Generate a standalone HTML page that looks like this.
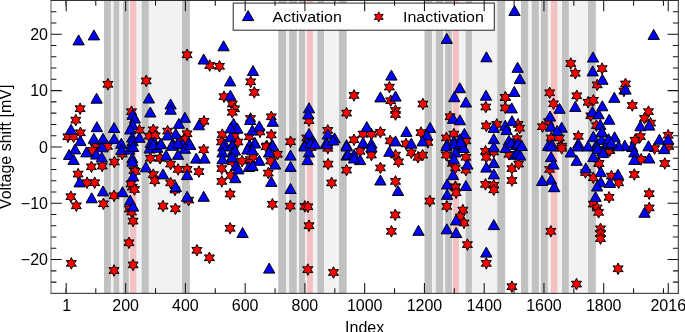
<!DOCTYPE html><html><head><meta charset="utf-8"><style>html,body{margin:0;padding:0;background:#fff;overflow:hidden}svg{display:block}</style></head><body><svg width="685" height="332" viewBox="0 0 685 332"><defs><path id="t" d="M0,-5.00L5.65,5.00L-5.65,5.00Z" fill="#00f" stroke="#000" stroke-width="1"/><path id="s" d="M0.00,-5.80L1.55,-2.68L5.02,-2.90L3.10,0.00L5.02,2.90L1.55,2.68L0.00,5.80L-1.55,2.68L-5.02,2.90L-3.10,0.00L-5.02,-2.90L-1.55,-2.68Z" fill="#f00" stroke="#000" stroke-width="1"/></defs><rect width="685" height="332" fill="#fff"/><rect x="104.0" y="0.45" width="85.90" height="292.90" fill="#f2f2f2"/><rect x="104.0" y="0.45" width="6.85" height="292.90" fill="#c1c1c1"/><rect x="113.55" y="0.45" width="5.65" height="292.90" fill="#c1c1c1"/><rect x="123.05" y="0.45" width="5.75" height="292.90" fill="#c1c1c1"/><rect x="141.7" y="0.45" width="7.00" height="292.90" fill="#c1c1c1"/><rect x="182.1" y="0.45" width="7.80" height="292.90" fill="#c1c1c1"/><rect x="130.0" y="0.45" width="6.30" height="292.90" fill="#f3c1c1"/><rect x="278.25" y="0.45" width="68.35" height="292.90" fill="#f2f2f2"/><rect x="278.25" y="0.45" width="7.85" height="292.90" fill="#c1c1c1"/><rect x="289.2" y="0.45" width="7.50" height="292.90" fill="#c1c1c1"/><rect x="299.0" y="0.45" width="6.00" height="292.90" fill="#c1c1c1"/><rect x="317.4" y="0.45" width="6.55" height="292.90" fill="#c1c1c1"/><rect x="338.95" y="0.45" width="7.65" height="292.90" fill="#c1c1c1"/><rect x="306.8" y="0.45" width="6.10" height="292.90" fill="#f3c1c1"/><rect x="424.5" y="0.45" width="80.70" height="292.90" fill="#f2f2f2"/><rect x="424.5" y="0.45" width="7.50" height="292.90" fill="#c1c1c1"/><rect x="435.8" y="0.45" width="7.25" height="292.90" fill="#c1c1c1"/><rect x="445.2" y="0.45" width="6.70" height="292.90" fill="#c1c1c1"/><rect x="465.65" y="0.45" width="6.20" height="292.90" fill="#c1c1c1"/><rect x="497.3" y="0.45" width="7.90" height="292.90" fill="#c1c1c1"/><rect x="452.9" y="0.45" width="6.00" height="292.90" fill="#f3c1c1"/><rect x="520.95" y="0.45" width="74.85" height="292.90" fill="#f2f2f2"/><rect x="520.95" y="0.45" width="7.25" height="292.90" fill="#c1c1c1"/><rect x="531.8" y="0.45" width="7.00" height="292.90" fill="#c1c1c1"/><rect x="541.0" y="0.45" width="6.80" height="292.90" fill="#c1c1c1"/><rect x="562.0" y="0.45" width="6.75" height="292.90" fill="#c1c1c1"/><rect x="588.05" y="0.45" width="7.75" height="292.90" fill="#c1c1c1"/><rect x="550.85" y="0.45" width="6.65" height="292.90" fill="#f3c1c1"/><use href="#s" x="80.1" y="108.7"/><use href="#s" x="75.8" y="120.1"/><use href="#s" x="80.4" y="132.8"/><use href="#s" x="67.9" y="136.8"/><use href="#s" x="73.6" y="136.8"/><use href="#s" x="95.0" y="147.0"/><use href="#s" x="107.5" y="146.4"/><use href="#s" x="92.4" y="150.4"/><use href="#s" x="114.3" y="162.0"/><use href="#s" x="91.4" y="166.8"/><use href="#s" x="102.2" y="166.1"/><use href="#s" x="78.1" y="174.1"/><use href="#s" x="87.1" y="182.7"/><use href="#s" x="94.7" y="182.7"/><use href="#s" x="131.5" y="111.7"/><use href="#s" x="139.4" y="130.2"/><use href="#s" x="153.3" y="129.8"/><use href="#s" x="149.2" y="136.2"/><use href="#s" x="155.2" y="135.8"/><use href="#s" x="122.2" y="154.0"/><use href="#s" x="150.4" y="158.2"/><use href="#s" x="160.2" y="158.2"/><use href="#s" x="133.8" y="170.5"/><use href="#s" x="135.3" y="171.4"/><use href="#s" x="132.3" y="187.2"/><use href="#s" x="131.0" y="184.0"/><use href="#s" x="134.5" y="189.5"/><use href="#s" x="70.9" y="196.7"/><use href="#s" x="76.3" y="205.8"/><use href="#s" x="103.4" y="203.8"/><use href="#s" x="114.0" y="195.8"/><use href="#s" x="129.3" y="209.1"/><use href="#s" x="131.6" y="212.1"/><use href="#s" x="133.1" y="221.1"/><use href="#s" x="129.0" y="242.8"/><use href="#s" x="71.3" y="263.4"/><use href="#s" x="133.1" y="264.9"/><use href="#s" x="114.0" y="270.5"/><use href="#s" x="175.0" y="190.0"/><use href="#s" x="188.7" y="200.1"/><use href="#s" x="163.0" y="206.1"/><use href="#s" x="175.4" y="208.8"/><use href="#s" x="230.1" y="194.0"/><use href="#s" x="230.1" y="228.3"/><use href="#s" x="196.9" y="250.3"/><use href="#s" x="209.4" y="257.8"/><use href="#s" x="307.8" y="269.6"/><use href="#s" x="333.5" y="272.5"/><use href="#s" x="167.6" y="131.1"/><use href="#s" x="187.1" y="133.8"/><use href="#s" x="179.6" y="140.2"/><use href="#s" x="184.9" y="139.4"/><use href="#s" x="204.0" y="121.3"/><use href="#s" x="232.3" y="104.0"/><use href="#s" x="234.6" y="108.8"/><use href="#s" x="232.3" y="112.3"/><use href="#s" x="222.3" y="134.6"/><use href="#s" x="234.4" y="136.1"/><use href="#s" x="249.4" y="136.8"/><use href="#s" x="160.0" y="158.1"/><use href="#s" x="170.6" y="164.1"/><use href="#s" x="178.1" y="169.4"/><use href="#s" x="187.1" y="169.4"/><use href="#s" x="153.3" y="174.6"/><use href="#s" x="154.8" y="180.7"/><use href="#s" x="170.6" y="182.9"/><use href="#s" x="203.7" y="149.8"/><use href="#s" x="198.9" y="171.6"/><use href="#s" x="221.5" y="142.0"/><use href="#s" x="232.3" y="161.8"/><use href="#s" x="242.1" y="161.1"/><use href="#s" x="221.8" y="168.6"/><use href="#s" x="230.8" y="175.4"/><use href="#s" x="221.8" y="181.4"/><use href="#s" x="250.4" y="159.6"/><use href="#s" x="238.0" y="142.0"/><use href="#s" x="260.0" y="131.9"/><use href="#s" x="271.3" y="116.8"/><use href="#s" x="271.3" y="134.9"/><use href="#s" x="266.8" y="145.9"/><use href="#s" x="309.0" y="120.6"/><use href="#s" x="306.7" y="137.9"/><use href="#s" x="290.5" y="141.7"/><use href="#s" x="327.8" y="130.4"/><use href="#s" x="346.6" y="113.1"/><use href="#s" x="253.3" y="156.6"/><use href="#s" x="266.1" y="146.8"/><use href="#s" x="277.4" y="154.3"/><use href="#s" x="270.6" y="161.1"/><use href="#s" x="268.3" y="173.1"/><use href="#s" x="311.2" y="147.5"/><use href="#s" x="327.8" y="148.3"/><use href="#s" x="328.1" y="164.1"/><use href="#s" x="331.6" y="182.9"/><use href="#s" x="346.6" y="170.1"/><use href="#s" x="250.5" y="118.5"/><use href="#s" x="272.4" y="204.3"/><use href="#s" x="290.2" y="206.1"/><use href="#s" x="304.9" y="206.4"/><use href="#s" x="307.9" y="206.8"/><use href="#s" x="309.0" y="225.7"/><use href="#s" x="395.5" y="110.5"/><use href="#s" x="395.5" y="114.5"/><use href="#s" x="422.9" y="104.0"/><use href="#s" x="380.4" y="132.3"/><use href="#s" x="363.1" y="134.1"/><use href="#s" x="371.4" y="134.1"/><use href="#s" x="354.0" y="139.8"/><use href="#s" x="390.2" y="140.9"/><use href="#s" x="406.0" y="143.9"/><use href="#s" x="421.0" y="132.6"/><use href="#s" x="427.8" y="142.4"/><use href="#s" x="360.1" y="151.3"/><use href="#s" x="371.4" y="155.1"/><use href="#s" x="380.4" y="167.9"/><use href="#s" x="395.5" y="181.4"/><use href="#s" x="395.5" y="155.1"/><use href="#s" x="398.5" y="161.8"/><use href="#s" x="411.3" y="152.8"/><use href="#s" x="418.0" y="157.3"/><use href="#s" x="422.6" y="155.1"/><use href="#s" x="429.8" y="201.1"/><use href="#s" x="395.2" y="214.9"/><use href="#s" x="391.4" y="231.3"/><use href="#s" x="485.8" y="107.0"/><use href="#s" x="450.1" y="116.8"/><use href="#s" x="446.4" y="137.9"/><use href="#s" x="453.9" y="134.1"/><use href="#s" x="465.9" y="140.9"/><use href="#s" x="486.3" y="125.9"/><use href="#s" x="496.8" y="124.4"/><use href="#s" x="518.1" y="124.4"/><use href="#s" x="519.6" y="128.2"/><use href="#s" x="517.1" y="138.7"/><use href="#s" x="505.3" y="97.4"/><use href="#s" x="505.3" y="107.9"/><use href="#s" x="446.4" y="155.1"/><use href="#s" x="465.9" y="157.3"/><use href="#s" x="452.4" y="163.3"/><use href="#s" x="455.4" y="167.9"/><use href="#s" x="465.9" y="170.1"/><use href="#s" x="455.4" y="186.7"/><use href="#s" x="485.5" y="151.3"/><use href="#s" x="493.8" y="152.0"/><use href="#s" x="486.3" y="157.3"/><use href="#s" x="485.5" y="184.4"/><use href="#s" x="493.8" y="185.2"/><use href="#s" x="508.9" y="154.3"/><use href="#s" x="511.9" y="168.6"/><use href="#s" x="511.9" y="180.5"/><use href="#s" x="518.6" y="164.1"/><use href="#s" x="455.4" y="187.5"/><use href="#s" x="456.1" y="192.8"/><use href="#s" x="446.8" y="206.4"/><use href="#s" x="462.9" y="210.1"/><use href="#s" x="460.4" y="216.9"/><use href="#s" x="464.0" y="222.9"/><use href="#s" x="493.8" y="189.8"/><use href="#s" x="467.4" y="244.6"/><use href="#s" x="486.3" y="263.4"/><use href="#s" x="623.9" y="91.0"/><use href="#s" x="553.5" y="103.8"/><use href="#s" x="548.5" y="121.6"/><use href="#s" x="542.5" y="126.7"/><use href="#s" x="551.1" y="137.9"/><use href="#s" x="559.4" y="137.9"/><use href="#s" x="561.7" y="146.2"/><use href="#s" x="588.1" y="102.3"/><use href="#s" x="590.8" y="115.8"/><use href="#s" x="596.5" y="125.6"/><use href="#s" x="578.3" y="136.4"/><use href="#s" x="549.6" y="169.4"/><use href="#s" x="561.7" y="148.3"/><use href="#s" x="609.9" y="150.5"/><use href="#s" x="598.6" y="163.3"/><use href="#s" x="593.3" y="177.7"/><use href="#s" x="611.4" y="176.1"/><use href="#s" x="609.1" y="197.3"/><use href="#s" x="593.3" y="204.1"/><use href="#s" x="597.1" y="207.9"/><use href="#s" x="598.6" y="212.4"/><use href="#s" x="600.5" y="228.8"/><use href="#s" x="600.5" y="233.5"/><use href="#s" x="600.5" y="238.6"/><use href="#s" x="550.8" y="231.3"/><use href="#s" x="618.1" y="268.8"/><use href="#s" x="576.5" y="284.1"/><use href="#s" x="632.3" y="105.5"/><use href="#s" x="648.5" y="111.6"/><use href="#s" x="644.5" y="118.3"/><use href="#s" x="650.6" y="123.1"/><use href="#s" x="640.4" y="136.6"/><use href="#s" x="635.0" y="140.2"/><use href="#s" x="668.2" y="135.3"/><use href="#s" x="668.8" y="146.5"/><use href="#s" x="654.6" y="148.6"/><use href="#s" x="609.2" y="150.6"/><use href="#s" x="641.1" y="159.4"/><use href="#s" x="664.8" y="163.5"/><use href="#s" x="599.1" y="163.5"/><use href="#s" x="634.3" y="174.5"/><use href="#s" x="618.7" y="182.8"/><use href="#s" x="649.2" y="193.7"/><use href="#s" x="649.2" y="207.9"/><use href="#s" x="511.9" y="286.7"/><use href="#s" x="585.5" y="172.5"/><use href="#s" x="107.9" y="84.3"/><use href="#s" x="146.2" y="80.9"/><use href="#s" x="187.1" y="54.8"/><use href="#s" x="209.7" y="65.5"/><use href="#s" x="219.5" y="66.3"/><use href="#s" x="224.0" y="96.7"/><use href="#s" x="250.7" y="81.8"/><use href="#s" x="254.3" y="92.4"/><use href="#s" x="389.4" y="87.1"/><use href="#s" x="354.0" y="95.4"/><use href="#s" x="505.5" y="97.4"/><use href="#s" x="549.7" y="92.8"/><use href="#s" x="570.8" y="63.5"/><use href="#s" x="575.3" y="73.3"/><use href="#s" x="602.1" y="68.6"/><use href="#s" x="597.2" y="84.9"/><use href="#s" x="625.5" y="83.9"/><use href="#s" x="576.8" y="95.8"/><use href="#s" x="593.4" y="100.3"/><use href="#s" x="390.7" y="100.7"/><use href="#t" x="71.0" y="129.3"/><use href="#t" x="80.4" y="140.6"/><use href="#t" x="75.1" y="148.9"/><use href="#t" x="69.1" y="154.5"/><use href="#t" x="73.6" y="159.4"/><use href="#t" x="96.9" y="126.7"/><use href="#t" x="93.9" y="138.3"/><use href="#t" x="103.0" y="138.3"/><use href="#t" x="102.2" y="146.8"/><use href="#t" x="86.4" y="151.9"/><use href="#t" x="96.2" y="154.1"/><use href="#t" x="101.8" y="157.0"/><use href="#t" x="79.6" y="181.9"/><use href="#t" x="103.0" y="190.9"/><use href="#t" x="122.5" y="191.7"/><use href="#t" x="132.6" y="114.3"/><use href="#t" x="134.8" y="118.1"/><use href="#t" x="150.3" y="112.0"/><use href="#t" x="114.1" y="127.5"/><use href="#t" x="132.6" y="124.5"/><use href="#t" x="130.3" y="129.0"/><use href="#t" x="114.1" y="138.4"/><use href="#t" x="132.2" y="137.0"/><use href="#t" x="132.6" y="140.7"/><use href="#t" x="139.4" y="137.3"/><use href="#t" x="121.3" y="143.3"/><use href="#t" x="154.4" y="141.8"/><use href="#t" x="150.7" y="142.6"/><use href="#t" x="121.4" y="149.5"/><use href="#t" x="129.3" y="149.1"/><use href="#t" x="133.1" y="146.5"/><use href="#t" x="132.3" y="157.8"/><use href="#t" x="132.3" y="161.2"/><use href="#t" x="149.6" y="148.0"/><use href="#t" x="157.2" y="147.3"/><use href="#t" x="145.9" y="166.8"/><use href="#t" x="133.1" y="175.9"/><use href="#t" x="91.7" y="197.8"/><use href="#t" x="130.1" y="200.1"/><use href="#t" x="133.1" y="206.1"/><use href="#t" x="187.1" y="196.3"/><use href="#t" x="203.7" y="196.3"/><use href="#t" x="242.6" y="232.5"/><use href="#t" x="269.2" y="268.1"/><use href="#t" x="170.6" y="104.0"/><use href="#t" x="170.6" y="109.2"/><use href="#t" x="184.9" y="117.3"/><use href="#t" x="178.9" y="123.3"/><use href="#t" x="175.8" y="133.4"/><use href="#t" x="167.6" y="134.9"/><use href="#t" x="160.8" y="143.2"/><use href="#t" x="188.7" y="142.4"/><use href="#t" x="172.8" y="143.2"/><use href="#t" x="182.6" y="143.9"/><use href="#t" x="198.9" y="124.8"/><use href="#t" x="233.6" y="123.3"/><use href="#t" x="237.4" y="128.2"/><use href="#t" x="230.6" y="127.8"/><use href="#t" x="230.6" y="136.8"/><use href="#t" x="224.8" y="143.9"/><use href="#t" x="232.3" y="144.7"/><use href="#t" x="250.2" y="119.5"/><use href="#t" x="252.4" y="130.0"/><use href="#t" x="249.6" y="144.7"/><use href="#t" x="153.3" y="144.5"/><use href="#t" x="160.8" y="143.8"/><use href="#t" x="172.1" y="145.3"/><use href="#t" x="178.1" y="143.0"/><use href="#t" x="184.9" y="148.3"/><use href="#t" x="190.2" y="144.5"/><use href="#t" x="166.1" y="155.1"/><use href="#t" x="178.1" y="154.3"/><use href="#t" x="187.1" y="174.6"/><use href="#t" x="163.0" y="173.9"/><use href="#t" x="175.8" y="186.5"/><use href="#t" x="196.2" y="158.1"/><use href="#t" x="204.5" y="158.1"/><use href="#t" x="223.3" y="146.0"/><use href="#t" x="232.3" y="145.3"/><use href="#t" x="222.5" y="152.0"/><use href="#t" x="232.3" y="152.0"/><use href="#t" x="235.0" y="150.0"/><use href="#t" x="222.5" y="158.8"/><use href="#t" x="232.3" y="157.0"/><use href="#t" x="236.1" y="165.6"/><use href="#t" x="238.4" y="168.9"/><use href="#t" x="235.3" y="177.7"/><use href="#t" x="247.4" y="149.0"/><use href="#t" x="248.9" y="166.4"/><use href="#t" x="259.3" y="125.9"/><use href="#t" x="254.8" y="142.4"/><use href="#t" x="272.8" y="121.3"/><use href="#t" x="272.1" y="144.7"/><use href="#t" x="309.0" y="107.8"/><use href="#t" x="308.2" y="113.8"/><use href="#t" x="309.0" y="133.4"/><use href="#t" x="307.5" y="142.4"/><use href="#t" x="312.0" y="141.7"/><use href="#t" x="304.5" y="144.7"/><use href="#t" x="327.8" y="134.1"/><use href="#t" x="334.6" y="137.9"/><use href="#t" x="326.3" y="142.4"/><use href="#t" x="346.6" y="144.7"/><use href="#t" x="254.8" y="143.0"/><use href="#t" x="252.5" y="149.8"/><use href="#t" x="259.3" y="160.3"/><use href="#t" x="252.5" y="165.6"/><use href="#t" x="272.8" y="145.3"/><use href="#t" x="269.1" y="152.0"/><use href="#t" x="275.1" y="164.1"/><use href="#t" x="271.3" y="181.4"/><use href="#t" x="290.5" y="155.1"/><use href="#t" x="290.5" y="166.4"/><use href="#t" x="290.5" y="188.5"/><use href="#t" x="304.5" y="146.0"/><use href="#t" x="310.5" y="143.0"/><use href="#t" x="315.0" y="143.8"/><use href="#t" x="309.0" y="152.0"/><use href="#t" x="307.5" y="159.6"/><use href="#t" x="327.1" y="143.8"/><use href="#t" x="333.0" y="140.0"/><use href="#t" x="346.6" y="146.0"/><use href="#t" x="346.6" y="155.1"/><use href="#t" x="366.8" y="126.6"/><use href="#t" x="363.1" y="142.4"/><use href="#t" x="371.4" y="143.2"/><use href="#t" x="406.4" y="131.4"/><use href="#t" x="395.5" y="140.9"/><use href="#t" x="411.3" y="143.2"/><use href="#t" x="430.1" y="127.4"/><use href="#t" x="427.1" y="134.9"/><use href="#t" x="422.6" y="140.9"/><use href="#t" x="371.4" y="146.8"/><use href="#t" x="348.0" y="154.3"/><use href="#t" x="354.0" y="154.3"/><use href="#t" x="360.1" y="159.6"/><use href="#t" x="354.0" y="158.0"/><use href="#t" x="380.4" y="180.0"/><use href="#t" x="389.4" y="151.3"/><use href="#t" x="398.0" y="190.5"/><use href="#t" x="418.5" y="230.3"/><use href="#t" x="465.9" y="102.0"/><use href="#t" x="453.1" y="118.3"/><use href="#t" x="459.9" y="119.8"/><use href="#t" x="464.4" y="133.4"/><use href="#t" x="459.9" y="138.7"/><use href="#t" x="453.9" y="140.9"/><use href="#t" x="447.1" y="143.9"/><use href="#t" x="460.7" y="145.4"/><use href="#t" x="493.8" y="127.4"/><use href="#t" x="505.3" y="125.2"/><use href="#t" x="506.6" y="129.6"/><use href="#t" x="512.0" y="120.7"/><use href="#t" x="493.8" y="138.7"/><use href="#t" x="508.9" y="140.2"/><use href="#t" x="513.4" y="142.4"/><use href="#t" x="511.7" y="107.9"/><use href="#t" x="446.4" y="146.0"/><use href="#t" x="454.6" y="143.8"/><use href="#t" x="463.7" y="147.5"/><use href="#t" x="460.7" y="141.5"/><use href="#t" x="455.4" y="152.0"/><use href="#t" x="453.9" y="158.8"/><use href="#t" x="467.4" y="164.1"/><use href="#t" x="453.1" y="174.6"/><use href="#t" x="447.1" y="184.0"/><use href="#t" x="465.9" y="185.5"/><use href="#t" x="493.8" y="146.8"/><use href="#t" x="493.8" y="162.6"/><use href="#t" x="486.3" y="167.1"/><use href="#t" x="493.8" y="173.9"/><use href="#t" x="505.8" y="147.5"/><use href="#t" x="511.1" y="143.0"/><use href="#t" x="516.4" y="144.5"/><use href="#t" x="514.9" y="154.3"/><use href="#t" x="517.9" y="152.8"/><use href="#t" x="447.1" y="194.3"/><use href="#t" x="456.1" y="219.9"/><use href="#t" x="493.8" y="224.6"/><use href="#t" x="446.8" y="228.8"/><use href="#t" x="456.1" y="232.5"/><use href="#t" x="486.3" y="252.1"/><use href="#t" x="559.5" y="108.3"/><use href="#t" x="550.0" y="116.1"/><use href="#t" x="551.1" y="126.2"/><use href="#t" x="561.7" y="127.2"/><use href="#t" x="557.2" y="130.4"/><use href="#t" x="551.9" y="143.9"/><use href="#t" x="548.1" y="145.4"/><use href="#t" x="575.3" y="106.4"/><use href="#t" x="592.4" y="111.5"/><use href="#t" x="598.6" y="113.8"/><use href="#t" x="602.3" y="105.8"/><use href="#t" x="609.2" y="119.2"/><use href="#t" x="600.3" y="124.4"/><use href="#t" x="601.6" y="132.0"/><use href="#t" x="593.3" y="136.4"/><use href="#t" x="608.4" y="139.4"/><use href="#t" x="601.6" y="139.4"/><use href="#t" x="596.3" y="144.7"/><use href="#t" x="606.9" y="144.7"/><use href="#t" x="578.3" y="143.2"/><use href="#t" x="518.0" y="143.2"/><use href="#t" x="521.8" y="145.4"/><use href="#t" x="520.3" y="155.1"/><use href="#t" x="551.1" y="146.0"/><use href="#t" x="551.1" y="156.6"/><use href="#t" x="553.4" y="164.1"/><use href="#t" x="551.1" y="179.2"/><use href="#t" x="542.1" y="180.5"/><use href="#t" x="554.2" y="186.7"/><use href="#t" x="577.5" y="146.0"/><use href="#t" x="570.7" y="152.0"/><use href="#t" x="576.7" y="160.3"/><use href="#t" x="585.8" y="167.9"/><use href="#t" x="588.0" y="146.0"/><use href="#t" x="597.1" y="146.0"/><use href="#t" x="593.3" y="156.6"/><use href="#t" x="602.3" y="150.5"/><use href="#t" x="610.6" y="143.8"/><use href="#t" x="600.8" y="171.6"/><use href="#t" x="600.8" y="181.8"/><use href="#t" x="609.9" y="182.5"/><use href="#t" x="597.1" y="186.0"/><use href="#t" x="595.6" y="196.6"/><use href="#t" x="640.4" y="125.8"/><use href="#t" x="649.2" y="125.1"/><use href="#t" x="614.6" y="136.8"/><use href="#t" x="608.6" y="138.7"/><use href="#t" x="659.4" y="139.2"/><use href="#t" x="668.2" y="139.2"/><use href="#t" x="601.8" y="131.2"/><use href="#t" x="664.1" y="148.6"/><use href="#t" x="648.5" y="145.8"/><use href="#t" x="632.3" y="146.5"/><use href="#t" x="624.8" y="145.2"/><use href="#t" x="618.7" y="145.8"/><use href="#t" x="611.3" y="142.5"/><use href="#t" x="634.3" y="151.9"/><use href="#t" x="634.3" y="159.4"/><use href="#t" x="649.2" y="158.0"/><use href="#t" x="597.7" y="148.6"/><use href="#t" x="603.1" y="152.6"/><use href="#t" x="618.0" y="174.2"/><use href="#t" x="644.5" y="212.3"/><use href="#t" x="78.6" y="39.9"/><use href="#t" x="93.9" y="34.9"/><use href="#t" x="223.6" y="45.8"/><use href="#t" x="446.8" y="38.4"/><use href="#t" x="514.5" y="10.5"/><use href="#t" x="653.7" y="34.4"/><use href="#t" x="96.6" y="98.2"/><use href="#t" x="148.9" y="98.0"/><use href="#t" x="203.7" y="59.0"/><use href="#t" x="230.1" y="80.9"/><use href="#t" x="230.4" y="95.2"/><use href="#t" x="253.0" y="70.5"/><use href="#t" x="391.4" y="75.1"/><use href="#t" x="380.4" y="96.9"/><use href="#t" x="395.5" y="96.1"/><use href="#t" x="486.4" y="56.8"/><use href="#t" x="517.6" y="67.3"/><use href="#t" x="519.8" y="78.6"/><use href="#t" x="514.3" y="91.4"/><use href="#t" x="459.8" y="87.7"/><use href="#t" x="454.3" y="96.7"/><use href="#t" x="486.0" y="95.2"/><use href="#t" x="593.0" y="57.0"/><use href="#t" x="592.7" y="70.9"/><use href="#t" x="602.4" y="79.3"/><use href="#t" x="625.5" y="89.1"/><use href="#t" x="614.3" y="97.3"/><rect x="233.2" y="3.1" width="261.1" height="27.1" fill="#fff" stroke="#262626" stroke-width="1"/><use href="#t" x="248.1" y="15.6"/><use href="#s" transform="translate(378.8,16.9) scale(0.88)"/><g style="will-change:transform" font-family="Liberation Sans" font-size="16" fill="#000"><text transform="translate(272.6,22.3) scale(1,0.9125)">Activation</text><text transform="translate(403.0,22.3) scale(1,0.9125)">Inactivation</text></g><path d="M66.20,293.35v-10.3M66.20,0.45v10.8M95.78,293.35v-5.2M95.78,0.45v5.4M125.66,293.35v-10.3M125.66,0.45v10.8M155.53,293.35v-5.2M155.53,0.45v5.4M185.41,293.35v-10.3M185.41,0.45v10.8M215.29,293.35v-5.2M215.29,0.45v5.4M245.17,293.35v-10.3M245.17,0.45v10.8M275.05,293.35v-5.2M275.05,0.45v5.4M304.92,293.35v-10.3M304.92,0.45v10.8M334.80,293.35v-5.2M334.80,0.45v5.4M364.68,293.35v-10.3M364.68,0.45v10.8M394.56,293.35v-5.2M394.56,0.45v5.4M424.44,293.35v-10.3M424.44,0.45v10.8M454.31,293.35v-5.2M454.31,0.45v5.4M484.19,293.35v-10.3M484.19,0.45v10.8M514.07,293.35v-5.2M514.07,0.45v5.4M543.95,293.35v-10.3M543.95,0.45v10.8M573.83,293.35v-5.2M573.83,0.45v5.4M603.70,293.35v-10.3M603.70,0.45v10.8M633.58,293.35v-5.2M633.58,0.45v5.4M663.46,293.35v-5.2M663.46,0.45v5.4M65.90,293.35v-5.2M65.90,0.45v5.4M668.24,293.35v-10.3M668.24,0.45v10.8M51.0,282.12h5.4M678.3,282.12h-5.4M51.0,270.86h5.4M678.3,270.86h-5.4M51.0,259.59h10.8M678.3,259.59h-10.8M51.0,248.32h5.4M678.3,248.32h-5.4M51.0,237.06h5.4M678.3,237.06h-5.4M51.0,225.79h5.4M678.3,225.79h-5.4M51.0,214.53h5.4M678.3,214.53h-5.4M51.0,203.26h10.8M678.3,203.26h-10.8M51.0,191.99h5.4M678.3,191.99h-5.4M51.0,180.73h5.4M678.3,180.73h-5.4M51.0,169.46h5.4M678.3,169.46h-5.4M51.0,158.20h5.4M678.3,158.20h-5.4M51.0,146.93h10.8M678.3,146.93h-10.8M51.0,135.66h5.4M678.3,135.66h-5.4M51.0,124.40h5.4M678.3,124.40h-5.4M51.0,113.13h5.4M678.3,113.13h-5.4M51.0,101.87h5.4M678.3,101.87h-5.4M51.0,90.60h10.8M678.3,90.60h-10.8M51.0,79.33h5.4M678.3,79.33h-5.4M51.0,68.07h5.4M678.3,68.07h-5.4M51.0,56.80h5.4M678.3,56.80h-5.4M51.0,45.54h5.4M678.3,45.54h-5.4M51.0,34.27h10.8M678.3,34.27h-10.8M51.0,23.00h5.4M678.3,23.00h-5.4M51.0,11.74h5.4M678.3,11.74h-5.4" stroke="#141414" stroke-width="1.05" fill="none"/><path d="M50.5,0.45H678.8M50.5,293.35H678.8M678.3,0.45V293.35" stroke="#262626" stroke-width="1" fill="none"/><path d="M51.0,0.45V293.35" stroke="#262626" stroke-width="0.72" fill="none"/><g style="will-change:transform" font-family="Liberation Sans" font-size="16" fill="#000"><text x="66.80" y="310.6" text-anchor="middle">1</text><text x="125.66" y="310.6" text-anchor="middle">200</text><text x="185.41" y="310.6" text-anchor="middle">400</text><text x="245.17" y="310.6" text-anchor="middle">600</text><text x="304.92" y="310.6" text-anchor="middle">800</text><text x="364.68" y="310.6" text-anchor="middle">1000</text><text x="424.44" y="310.6" text-anchor="middle">1200</text><text x="484.19" y="310.6" text-anchor="middle">1400</text><text x="543.95" y="310.6" text-anchor="middle">1600</text><text x="603.70" y="310.6" text-anchor="middle">1800</text><text x="668.24" y="310.6" text-anchor="middle">2016</text><text x="48" y="39.97" text-anchor="end">20</text><text x="48" y="96.30" text-anchor="end">10</text><text x="48" y="152.63" text-anchor="end">0</text><text x="48" y="208.96" text-anchor="end">−10</text><text x="48" y="265.29" text-anchor="end">−20</text><text x="364.65" y="332.6" text-anchor="middle">Index</text><text transform="translate(11.2,146.9) rotate(-90)" text-anchor="middle">Voltage shift [mV]</text></g></svg></body></html>
